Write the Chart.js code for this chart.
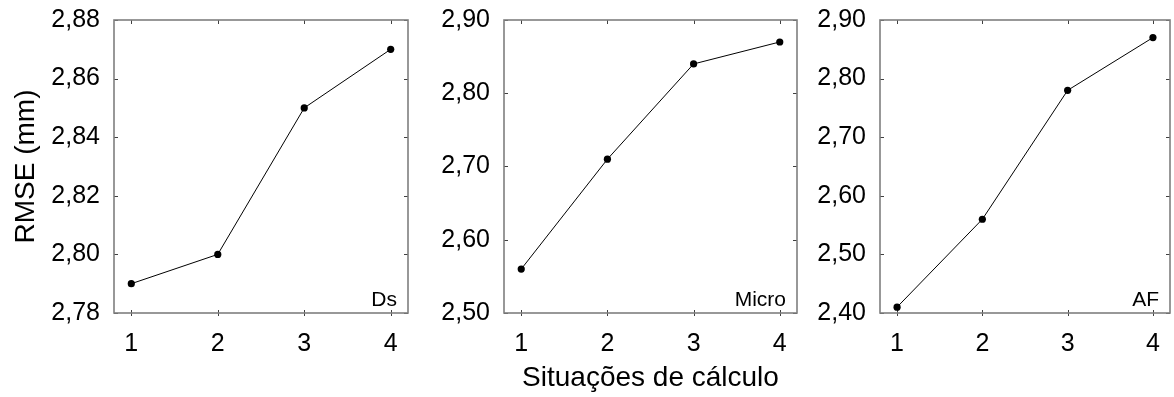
<!DOCTYPE html>
<html>
<head>
<meta charset="utf-8">
<script src="https://cdn.jsdelivr.net/npm/chart.js@4/dist/chart.umd.min.js"></script>
<style>
  html, body { margin: 0; padding: 0; background: #fff; width: 1174px; height: 397px; overflow: hidden; position: relative; }
  canvas { position: absolute; top: 0; }
</style>
</head>
<body>
<canvas id="painelDs" width="420" height="397" style="left:0px"></canvas>
<canvas id="painelMicro" width="392" height="397" style="left:420px"></canvas>
<canvas id="painelAF" width="362" height="397" style="left:812px"></canvas>
<script>
// Situações de cálculo (eixo x)
const situacoes = [1, 2, 3, 4];

// RMSE (mm) por situação
const rmseDs = [2.79, 2.80, 2.85, 2.87];
const rmseMicro = [2.56, 2.71, 2.84, 2.87];
const rmseAF = [2.41, 2.56, 2.78, 2.87];

// Marcas dos eixos
const ticksX = [1, 2, 3, 4];
const ticksDs = [2.78, 2.80, 2.82, 2.84, 2.86, 2.88];
const ticksMicro = [2.50, 2.60, 2.70, 2.80, 2.90];
const ticksAF = [2.40, 2.50, 2.60, 2.70, 2.80, 2.90];

const FONT = '"Liberation Sans", Arial, Helvetica, sans-serif';
const FRAME_COLOR = '#7f7f7f';
const TICK_COLOR = '#404040';

// Moldura em volta da área do gráfico, com marcas internas
const moldura = {
  id: 'moldura',
  beforeDatasetsDraw(chart) {
    const { ctx, chartArea: a, scales } = chart;
    ctx.save();
    ctx.strokeStyle = TICK_COLOR;
    ctx.lineWidth = 1;
    ctx.beginPath();
    scales.y.ticks.forEach(t => {
      const y = Math.round(scales.y.getPixelForValue(t.value)) + 0.5;
      ctx.moveTo(a.left, y); ctx.lineTo(a.left + 4, y);
      ctx.moveTo(a.right, y); ctx.lineTo(a.right - 4, y);
    });
    scales.x.ticks.forEach(t => {
      const x = Math.round(scales.x.getPixelForValue(t.value)) + 0.5;
      ctx.moveTo(x, a.top); ctx.lineTo(x, a.top + 4);
      ctx.moveTo(x, a.bottom - 3); ctx.lineTo(x, a.bottom + 3);
    });
    ctx.stroke();
    ctx.strokeStyle = FRAME_COLOR;
    ctx.lineWidth = 1.6;
    ctx.strokeRect(a.left, a.top, a.right - a.left, a.bottom - a.top);
    ctx.restore();
  },
  afterDatasetsDraw(chart, args, opts) {
    const { ctx, chartArea: a } = chart;
    ctx.save();
    ctx.fillStyle = '#000';
    ctx.font = '21px ' + FONT;
    ctx.textAlign = 'right';
    ctx.textBaseline = 'alphabetic';
    ctx.fillText(opts.rotulo, a.right - 11, a.bottom - 7);
    ctx.restore();
  }
};

const fmt = v => v.toFixed(2).replace('.', ',');

// Espaço entre eixo e rótulos, feito com marcas invisíveis
const gradeInvisivel = len => ({
  display: true,
  drawOnChartArea: false,
  drawTicks: true,
  tickLength: len,
  tickColor: 'rgba(0,0,0,0)'
});

function painel(id, valores, ticksY, rotulo, larguraY, direita, tituloY, tituloX) {
  const yMin = ticksY[0], yMax = ticksY[ticksY.length - 1];
  return new Chart(document.getElementById(id), {
    type: 'line',
    data: {
      datasets: [{
        data: situacoes.map((s, i) => ({ x: s, y: valores[i] })),
        borderColor: '#000',
        borderWidth: 1,
        backgroundColor: '#000',
        pointBackgroundColor: '#000',
        pointBorderWidth: 0,
        pointRadius: 3.6,
        tension: 0,
        clip: false
      }]
    },
    options: {
      responsive: false,
      animation: false,
      devicePixelRatio: 1,
      layout: { padding: { top: 20, right: direita, left: 0, bottom: 0 } },
      plugins: {
        legend: { display: false },
        tooltip: { enabled: false },
        moldura: { rotulo }
      },
      scales: {
        x: {
          type: 'linear',
          min: 0.8,
          max: 4.2,
          afterBuildTicks: s => { s.ticks = ticksX.map(v => ({ value: v })); },
          afterFit: s => { s.height = 84; },
          grid: gradeInvisivel(16),
          border: { display: false },
          ticks: {
            color: '#000',
            font: { family: FONT, size: 25 },
            padding: 0,
            maxRotation: 0,
            callback: v => String(v)
          },
          title: {
            display: !!tituloX,
            text: tituloX || '',
            color: '#000',
            font: { family: FONT, size: 28 },
            padding: { top: 0, bottom: 2 }
          }
        },
        y: {
          type: 'linear',
          min: yMin,
          max: yMax,
          afterBuildTicks: s => { s.ticks = ticksY.map(v => ({ value: v })); },
          afterFit: s => { s.width = larguraY; },
          grid: gradeInvisivel(14),
          border: { display: false },
          ticks: {
            color: '#000',
            font: { family: FONT, size: 25 },
            padding: 0,
            callback: v => fmt(v)
          },
          title: {
            display: !!tituloY,
            text: tituloY || '',
            color: '#000',
            font: { family: FONT, size: 28 },
            padding: { top: 9, bottom: 0 }
          }
        }
      }
    },
    plugins: [moldura]
  });
}

painel('painelDs', rmseDs, ticksDs, 'Ds', 114, 12, 'RMSE (mm)', null);
painel('painelMicro', rmseMicro, ticksMicro, 'Micro', 84, 15, null, 'Situações de cálculo');
painel('painelAF', rmseAF, ticksAF, 'AF', 68, 3, null, null);
</script>
</body>
</html>
